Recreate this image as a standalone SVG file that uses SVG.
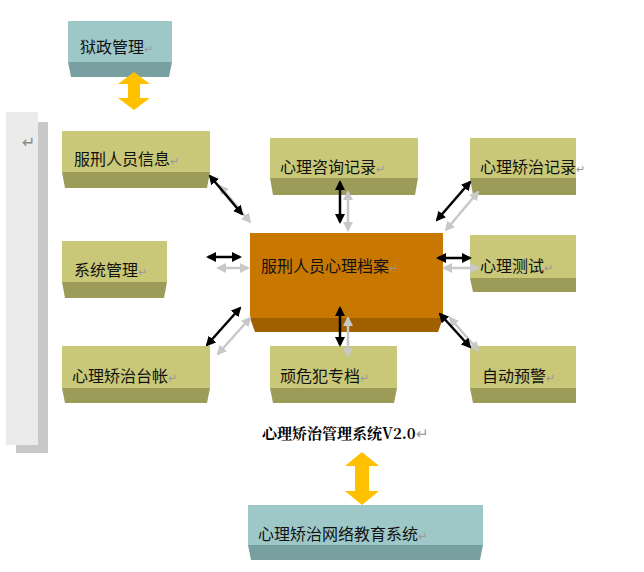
<svg xmlns="http://www.w3.org/2000/svg" width="644" height="572" viewBox="0 0 644 572">
<style>
.t{font-family:"Noto Sans CJK SC","Liberation Sans",sans-serif;font-size:16px;fill:#111}
.m{fill:#999;font-size:11px}
.ty{fill:#c8c878}.by{fill:#9c9c58}
.tg{fill:#9ec8c8}.bg{fill:#78a0a0}
.blk{stroke:#000;stroke-width:2.5;marker-start:url(#ab);marker-end:url(#ab)}
.gry{stroke:#c8c8c8;stroke-width:2.5;marker-start:url(#ag);marker-end:url(#ag)}
</style>
<defs>
<marker id="ab" viewBox="0 0 10 10" refX="8" refY="5" markerWidth="4" markerHeight="4" orient="auto-start-reverse"><path d="M0,0L10,5L0,10z" fill="#000"/></marker>
<marker id="ag" viewBox="0 0 10 10" refX="8" refY="5" markerWidth="4" markerHeight="4" orient="auto-start-reverse"><path d="M0,0L10,5L0,10z" fill="#c8c8c8"/></marker>
</defs>
<rect x="16" y="122" width="32" height="331" fill="#c8c8c8"/>
<rect x="6" y="112" width="32" height="333" fill="#ebebeb"/>
<text x="22" y="148" font-family="DejaVu Sans" font-size="16" fill="#888">↵</text>
<g id="n1"><rect class="tg" x="68" y="21" width="104" height="41"/><path class="bg" d="M68,62H172L169,77H71z"/><text class="t" x="80" y="53">狱政管理<tspan class="m">↵</tspan></text></g>
<g id="n2"><rect class="ty" x="62" y="131" width="148" height="41"/><path class="by" d="M62,172H210L207,188H65z"/><text class="t" x="74" y="165">服刑人员信息<tspan class="m">↵</tspan></text></g>
<g id="n3"><rect class="ty" x="62" y="241" width="105" height="41"/><path class="by" d="M62,282H167L164,298H65z"/><text class="t" x="74" y="276">系统管理<tspan class="m">↵</tspan></text></g>
<g id="n4"><rect class="ty" x="62" y="346" width="148" height="42"/><path class="by" d="M62,388H210L207,403H65z"/><text class="t" x="72" y="382">心理矫治台帐<tspan class="m">↵</tspan></text></g>
<g id="n5"><rect class="ty" x="270" y="138" width="148" height="40"/><path class="by" d="M270,178H418L415,195H273z"/><text class="t" x="280" y="173">心理咨询记录<tspan class="m">↵</tspan></text></g>
<g id="n6"><rect class="ty" x="270" y="346" width="127" height="42"/><path class="by" d="M270,388H397L394,403H273z"/><text class="t" x="280" y="382">顽危犯专档<tspan class="m">↵</tspan></text></g>
<g id="n7"><rect class="ty" x="470" y="138" width="106" height="40"/><path class="by" d="M470,178H576L576,195H473z"/><text class="t" x="480" y="173">心理矫治记录<tspan class="m">↵</tspan></text></g>
<g id="n8"><rect class="ty" x="470" y="235" width="106" height="43"/><path class="by" d="M470,278H576L576,292H473z"/><text class="t" x="480" y="272">心理测试<tspan class="m">↵</tspan></text></g>
<g id="n9"><rect class="ty" x="470" y="346" width="106" height="42"/><path class="by" d="M470,388H576L576,403H473z"/><text class="t" x="482" y="382">自动预警<tspan class="m">↵</tspan></text></g>
<g id="c"><rect fill="#c87800" x="250" y="233" width="193" height="85"/><path fill="#a06000" d="M250,318H443L438,332H255z"/><text class="t" x="261" y="272" font-size="18">服刑人员心理档案<tspan class="m">↵</tspan></text></g>
<g id="n10"><rect class="tg" x="248" y="505" width="235" height="40"/><path class="bg" d="M248,545H483L480,560H251z"/><text class="t" x="258" y="540">心理矫治网络教育系统<tspan class="m">↵</tspan></text></g>
<text x="262" y="439" font-family="Noto Serif CJK SC,Noto Sans CJK SC,serif" font-weight="bold" font-size="15" fill="#000">心理矫治管理系统V2.0<tspan fill="#999" font-weight="normal">↵</tspan></text>
<g id="connectors">
<path fill="#ffc000" d="M134,72L150,84H140V98H150L134,110L118,98H128V84H118z"/>
<path fill="#ffc000" d="M362,452L379,466H369V491H379L362,505L345,491H355V466H345z"/>
<line class="gry" x1="220" y1="186" x2="250" y2="222"/><line class="blk" x1="210" y1="176" x2="242" y2="214"/>
<line class="gry" x1="348" y1="192" x2="348" y2="230"/><line class="blk" x1="340" y1="182" x2="340" y2="222"/>
<line class="gry" x1="218" y1="268" x2="248" y2="268"/><line class="blk" x1="208" y1="257" x2="240" y2="257"/>
<line class="gry" x1="444" y1="268" x2="478" y2="268"/><line class="blk" x1="438" y1="258" x2="470" y2="258"/>
<line class="gry" x1="478" y1="192" x2="446" y2="230"/><line class="blk" x1="470" y1="182" x2="437" y2="220"/>
<line class="gry" x1="250" y1="318" x2="218" y2="354"/><line class="blk" x1="240" y1="308" x2="207" y2="345"/>
<line class="gry" x1="348" y1="318" x2="348" y2="356"/><line class="blk" x1="340" y1="308" x2="340" y2="345"/>
<line class="gry" x1="450" y1="318" x2="478" y2="350"/><line class="blk" x1="440" y1="314" x2="470" y2="347"/>
</g>
</svg>
